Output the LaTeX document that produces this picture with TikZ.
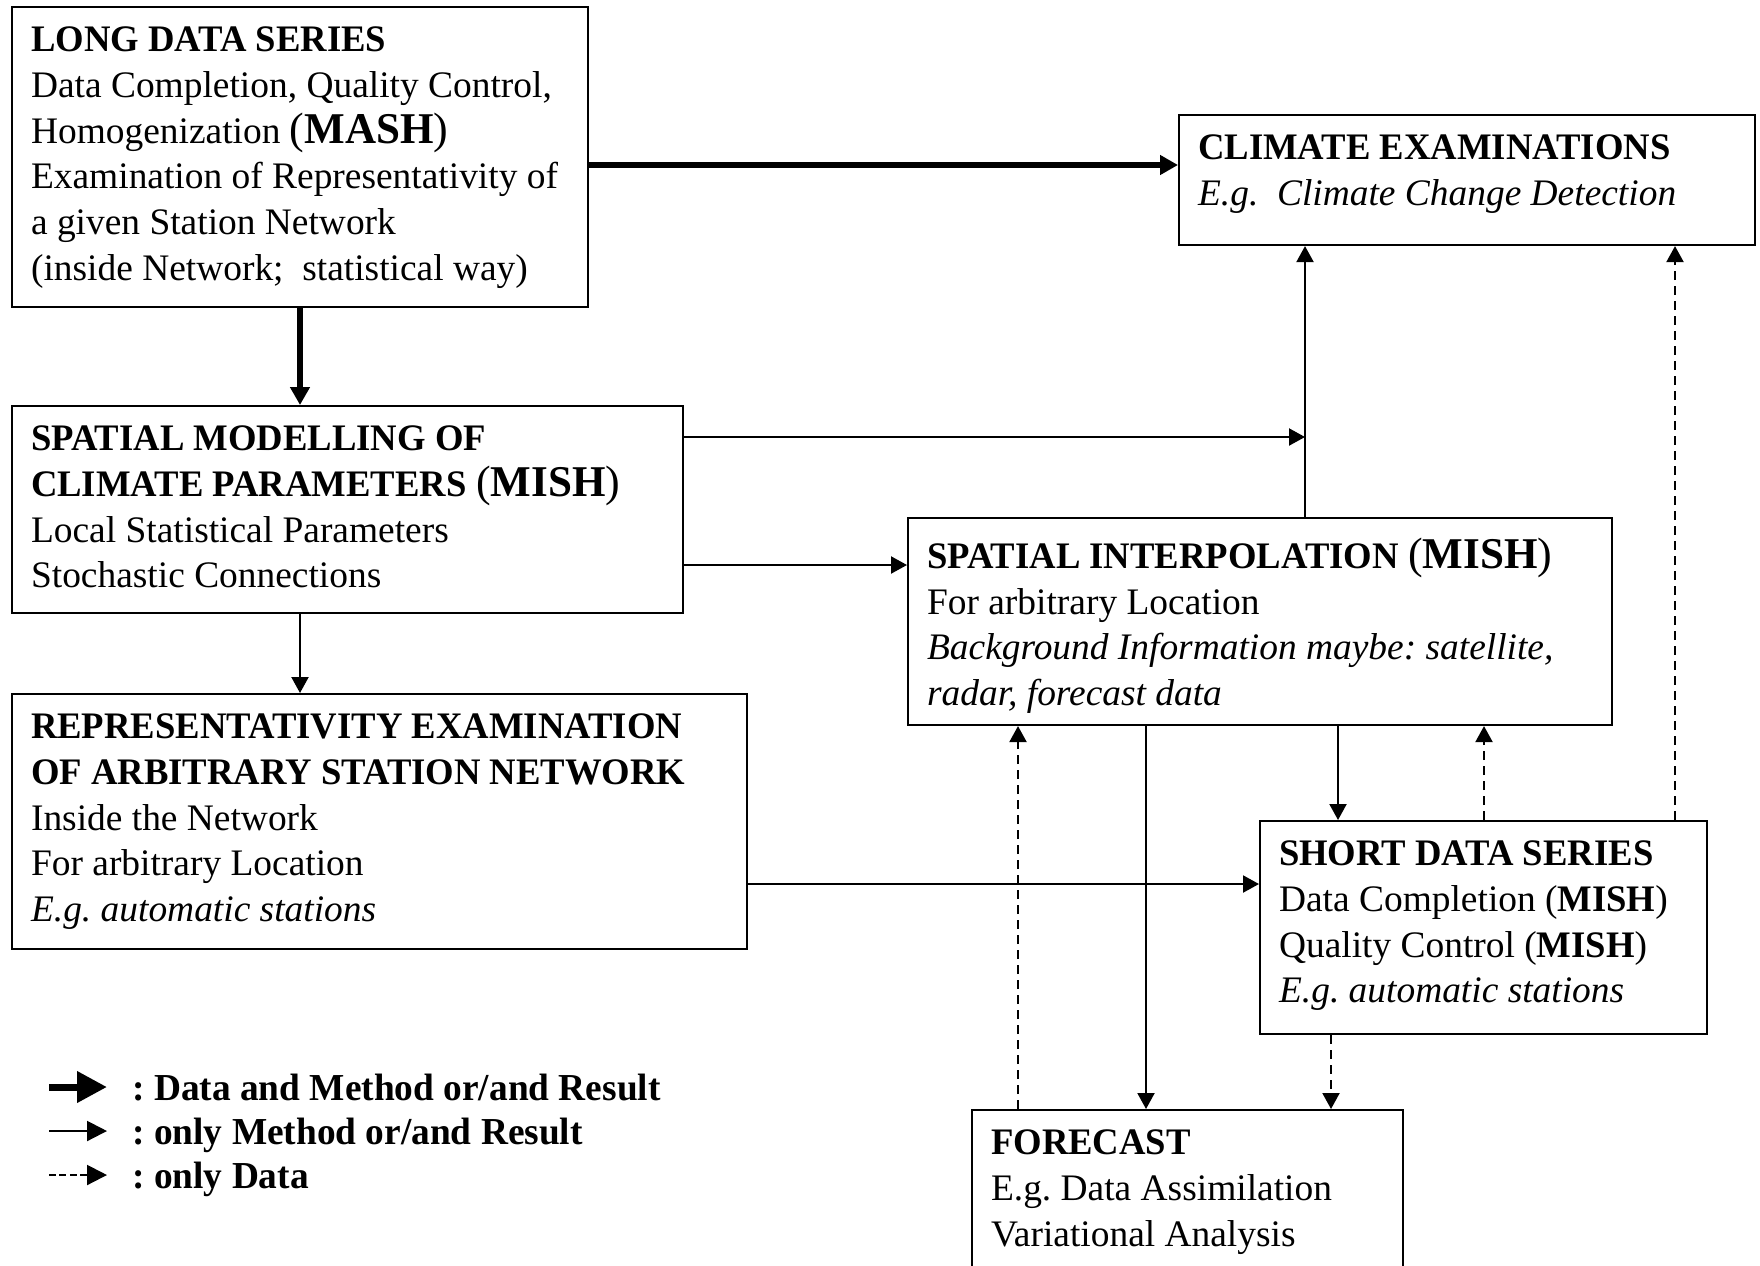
\documentclass[tikz,border=0pt]{standalone}
\usepackage{fontspec}
\setmainfont{Liberation Serif}[BoldFeatures={FakeStretch=0.98}]
\usetikzlibrary{arrows.meta, positioning, calc}
\frenchspacing
\newcommand{\bigtxt}{\fontsize{25pt}{26pt}\selectfont}

\begin{document}
\begin{tikzpicture}[x=0.02cm, y=-0.02cm,
  font=\fontsize{21.3pt}{26pt}\selectfont,
  block/.style={draw, line width=1.2pt, anchor=north west, inner xsep=0.38cm, inner ysep=0.4cm},
  legend/.style={anchor=base west, inner sep=0pt, font=\fontsize{21.7pt}{26pt}\selectfont\bfseries},
  bigarrow/.style={line width=3.2pt, -{Triangle[length=0.36cm, width=0.38cm]}},
  arrow/.style={line width=1.2pt, -{Triangle[length=0.32cm, width=0.34cm]}},
  dataarrow/.style={arrow, dash pattern=on 0.18cm off 0.12cm}]

\useasboundingbox (0,0) rectangle (1760,1265);

\node[block] (long) at (11,6) {\parbox[t][5.2cm][t]{10.76cm}{\raggedright
  \textbf{LONG DATA SERIES}\\
  Data Completion, Quality Control,\\
  Homogenization {\bigtxt(\textbf{MASH})}\\
  Examination of Representativity of\\
  a given Station Network\\
  (inside Network;\ \ statistical way)}};

\node[block] (climate) at (1178,114) {\parbox[t][1.8cm][t]{10.76cm}{\raggedright
  \textbf{CLIMATE EXAMINATIONS}\\
  \textit{E.g.\ \ Climate Change Detection}}};

\node[block] (sm) at (11,405) {\parbox[t][3.34cm][t]{12.66cm}{\raggedright
  \textbf{SPATIAL MODELLING OF}\\
  \textbf{CLIMATE PARAMETERS} {\bigtxt(\textbf{MISH})}\\
  Local Statistical Parameters\\
  Stochastic Connections}};

\node[block] (si) at (907,517) {\parbox[t][3.34cm][t]{13.32cm}{\raggedright
  \textbf{SPATIAL INTERPOLATION} {\bigtxt(\textbf{MISH})}\\
  For arbitrary Location\\
  \textit{Background Information maybe: satellite,}\\
  \textit{radar, forecast data}}};

\node[block] (rep) at (11,693) {\parbox[t][4.3cm][t]{13.94cm}{\raggedright
  \textbf{REPRESENTATIVITY EXAMINATION}\\
  \textbf{OF ARBITRARY STATION NETWORK}\\
  Inside the Network\\
  For arbitrary Location\\
  \textit{E.g. automatic stations}}};

\node[block] (short) at (1259,820) {\parbox[t][3.46cm][t]{8.18cm}{\raggedright
  \textbf{SHORT DATA SERIES}\\
  Data Completion (\textbf{MISH})\\
  Quality Control (\textbf{MISH})\\
  \textit{E.g. automatic stations}}};

\node[block] (forecast) at (971,1109) {\parbox[t][3.2cm][t]{7.86cm}{\raggedright
  \textbf{FORECAST}\\
  E.g. Data Assimilation\\
  Variational Analysis}};

\coordinate (join) at (1305,437);

\draw[bigarrow] (long.east |- 0,165) -- (climate.west |- 0,165);
\draw[bigarrow] (long.south) -- (sm.north -| long.south);

\draw[arrow] (sm.east |- join) -- (join);
\draw[arrow] (si.north -| join) -- (climate.south -| join);
\draw[arrow] (sm.east |- 0,565) -- (si.west |- 0,565);
\draw[arrow] (sm.south -| long.south) -- (rep.north -| long.south);
\draw[arrow] (rep.east |- 0,884) -- (short.west |- 0,884);
\draw[arrow] (si.south -| 1338,0) -- (short.north -| 1338,0);
\draw[arrow] (si.south -| 1146,0) -- (forecast.north -| 1146,0);

\draw[dataarrow] (short.north -| 1484,0) -- (si.south -| 1484,0);
\draw[dataarrow] (short.north -| 1675,0) -- (climate.south -| 1675,0);
\draw[dataarrow] (forecast.north -| 1018,0) -- (si.south -| 1018,0);
\draw[dataarrow] (short.south -| 1331,0) -- (forecast.north -| 1331,0);

\node[legend] (leg1) at (132,1100) {: Data and Method or/and Result};
\node[legend] (leg2) at (132,1144) {: only Method or/and Result};
\node[legend] (leg3) at (132,1188) {: only Data};
\coordinate (l1) at (49,1087);
\coordinate (l2) at (49,1131);
\coordinate (l3) at (49,1175);
\draw[line width=4pt, -{Triangle[length=0.6cm, width=0.6cm]}] (l1) -- (107,1087);
\draw[line width=1.2pt, -{Triangle[length=0.4cm, width=0.4cm]}] (l2) -- (107,1131);
\draw[line width=1.2pt, dash pattern=on 0.14cm off 0.07cm, -{Triangle[length=0.4cm, width=0.4cm]}] (l3) -- (107,1175);

\end{tikzpicture}
\end{document}
